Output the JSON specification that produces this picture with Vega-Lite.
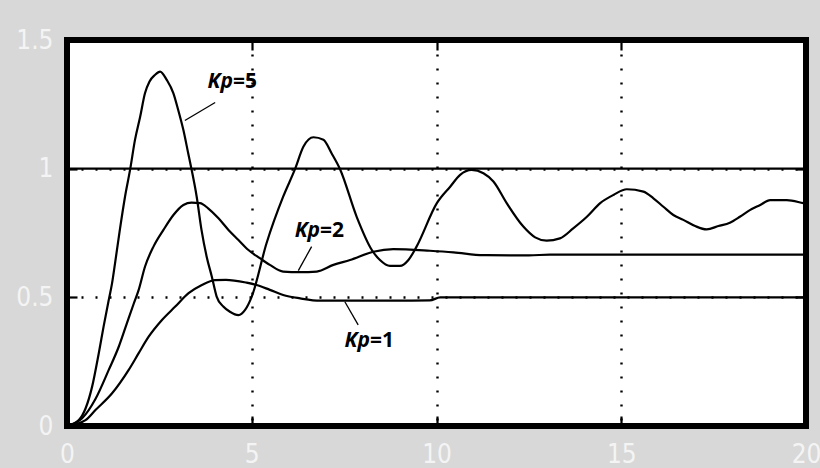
{
  "$schema": "https://vega.github.io/schema/vega-lite/v6.json",
  "width": 739,
  "height": 386,
  "autosize": {"type": "none"},
  "padding": {"left": 67, "top": 40, "right": 14, "bottom": 42},
  "background": "#d8d8d8",
  "config": {
    "view": {"fill": "white", "stroke": "black", "strokeWidth": 6}
  },
  "datasets": {
    "response": [
      {"t": 0, "y": 0, "kp": "Kp=5"},
      {"t": 0.32, "y": 0.023, "kp": "Kp=5"},
      {"t": 0.68, "y": 0.153, "kp": "Kp=5"},
      {"t": 0.86, "y": 0.283, "kp": "Kp=5"},
      {"t": 0.99, "y": 0.386, "kp": "Kp=5"},
      {"t": 1.13, "y": 0.49, "kp": "Kp=5"},
      {"t": 1.22, "y": 0.555, "kp": "Kp=5"},
      {"t": 1.3, "y": 0.632, "kp": "Kp=5"},
      {"t": 1.43, "y": 0.762, "kp": "Kp=5"},
      {"t": 1.57, "y": 0.891, "kp": "Kp=5"},
      {"t": 1.71, "y": 0.998, "kp": "Kp=5"},
      {"t": 1.84, "y": 1.112, "kp": "Kp=5"},
      {"t": 1.98, "y": 1.202, "kp": "Kp=5"},
      {"t": 2.11, "y": 1.293, "kp": "Kp=5"},
      {"t": 2.23, "y": 1.338, "kp": "Kp=5"},
      {"t": 2.38, "y": 1.364, "kp": "Kp=5"},
      {"t": 2.52, "y": 1.377, "kp": "Kp=5"},
      {"t": 2.7, "y": 1.345, "kp": "Kp=5"},
      {"t": 2.88, "y": 1.293, "kp": "Kp=5"},
      {"t": 3.01, "y": 1.228, "kp": "Kp=5"},
      {"t": 3.15, "y": 1.15, "kp": "Kp=5"},
      {"t": 3.28, "y": 1.06, "kp": "Kp=5"},
      {"t": 3.37, "y": 0.998, "kp": "Kp=5"},
      {"t": 3.51, "y": 0.891, "kp": "Kp=5"},
      {"t": 3.64, "y": 0.762, "kp": "Kp=5"},
      {"t": 3.78, "y": 0.658, "kp": "Kp=5"},
      {"t": 3.92, "y": 0.58, "kp": "Kp=5"},
      {"t": 4.05, "y": 0.503, "kp": "Kp=5"},
      {"t": 4.23, "y": 0.464, "kp": "Kp=5"},
      {"t": 4.41, "y": 0.444, "kp": "Kp=5"},
      {"t": 4.64, "y": 0.431, "kp": "Kp=5"},
      {"t": 4.82, "y": 0.451, "kp": "Kp=5"},
      {"t": 5.0, "y": 0.503, "kp": "Kp=5"},
      {"t": 5.4, "y": 0.71, "kp": "Kp=5"},
      {"t": 5.85, "y": 0.891, "kp": "Kp=5"},
      {"t": 6.17, "y": 0.998, "kp": "Kp=5"},
      {"t": 6.4, "y": 1.086, "kp": "Kp=5"},
      {"t": 6.67, "y": 1.122, "kp": "Kp=5"},
      {"t": 6.94, "y": 1.112, "kp": "Kp=5"},
      {"t": 7.16, "y": 1.06, "kp": "Kp=5"},
      {"t": 7.39, "y": 0.998, "kp": "Kp=5"},
      {"t": 7.84, "y": 0.813, "kp": "Kp=5"},
      {"t": 8.25, "y": 0.684, "kp": "Kp=5"},
      {"t": 8.47, "y": 0.645, "kp": "Kp=5"},
      {"t": 8.74, "y": 0.622, "kp": "Kp=5"},
      {"t": 9.01, "y": 0.622, "kp": "Kp=5"},
      {"t": 9.24, "y": 0.645, "kp": "Kp=5"},
      {"t": 9.46, "y": 0.697, "kp": "Kp=5"},
      {"t": 10.01, "y": 0.866, "kp": "Kp=5"},
      {"t": 10.37, "y": 0.93, "kp": "Kp=5"},
      {"t": 10.64, "y": 0.976, "kp": "Kp=5"},
      {"t": 10.95, "y": 0.995, "kp": "Kp=5"},
      {"t": 11.27, "y": 0.982, "kp": "Kp=5"},
      {"t": 11.54, "y": 0.95, "kp": "Kp=5"},
      {"t": 11.9, "y": 0.866, "kp": "Kp=5"},
      {"t": 12.35, "y": 0.775, "kp": "Kp=5"},
      {"t": 12.67, "y": 0.733, "kp": "Kp=5"},
      {"t": 12.98, "y": 0.72, "kp": "Kp=5"},
      {"t": 13.34, "y": 0.729, "kp": "Kp=5"},
      {"t": 13.7, "y": 0.768, "kp": "Kp=5"},
      {"t": 14.07, "y": 0.813, "kp": "Kp=5"},
      {"t": 14.43, "y": 0.866, "kp": "Kp=5"},
      {"t": 14.79, "y": 0.898, "kp": "Kp=5"},
      {"t": 15.15, "y": 0.92, "kp": "Kp=5"},
      {"t": 15.6, "y": 0.911, "kp": "Kp=5"},
      {"t": 15.87, "y": 0.885, "kp": "Kp=5"},
      {"t": 16.14, "y": 0.852, "kp": "Kp=5"},
      {"t": 16.41, "y": 0.82, "kp": "Kp=5"},
      {"t": 16.68, "y": 0.801, "kp": "Kp=5"},
      {"t": 17.0, "y": 0.777, "kp": "Kp=5"},
      {"t": 17.31, "y": 0.764, "kp": "Kp=5"},
      {"t": 17.63, "y": 0.777, "kp": "Kp=5"},
      {"t": 17.94, "y": 0.79, "kp": "Kp=5"},
      {"t": 18.21, "y": 0.813, "kp": "Kp=5"},
      {"t": 18.48, "y": 0.839, "kp": "Kp=5"},
      {"t": 18.76, "y": 0.859, "kp": "Kp=5"},
      {"t": 19.03, "y": 0.878, "kp": "Kp=5"},
      {"t": 19.48, "y": 0.878, "kp": "Kp=5"},
      {"t": 19.93, "y": 0.866, "kp": "Kp=5"},
      {"t": 20, "y": 0.864, "kp": "Kp=5"},

      {"t": 0, "y": 0, "kp": "Kp=2"},
      {"t": 0.41, "y": 0.03, "kp": "Kp=2"},
      {"t": 0.77, "y": 0.105, "kp": "Kp=2"},
      {"t": 1.13, "y": 0.218, "kp": "Kp=2"},
      {"t": 1.4, "y": 0.308, "kp": "Kp=2"},
      {"t": 1.62, "y": 0.399, "kp": "Kp=2"},
      {"t": 1.81, "y": 0.477, "kp": "Kp=2"},
      {"t": 1.94, "y": 0.529, "kp": "Kp=2"},
      {"t": 2.11, "y": 0.619, "kp": "Kp=2"},
      {"t": 2.34, "y": 0.697, "kp": "Kp=2"},
      {"t": 2.61, "y": 0.762, "kp": "Kp=2"},
      {"t": 2.88, "y": 0.82, "kp": "Kp=2"},
      {"t": 3.15, "y": 0.859, "kp": "Kp=2"},
      {"t": 3.37, "y": 0.868, "kp": "Kp=2"},
      {"t": 3.6, "y": 0.866, "kp": "Kp=2"},
      {"t": 3.82, "y": 0.846, "kp": "Kp=2"},
      {"t": 4.1, "y": 0.807, "kp": "Kp=2"},
      {"t": 4.37, "y": 0.762, "kp": "Kp=2"},
      {"t": 4.64, "y": 0.723, "kp": "Kp=2"},
      {"t": 4.91, "y": 0.684, "kp": "Kp=2"},
      {"t": 5.22, "y": 0.652, "kp": "Kp=2"},
      {"t": 5.49, "y": 0.626, "kp": "Kp=2"},
      {"t": 5.85, "y": 0.6, "kp": "Kp=2"},
      {"t": 6.3, "y": 0.598, "kp": "Kp=2"},
      {"t": 6.76, "y": 0.6, "kp": "Kp=2"},
      {"t": 7.21, "y": 0.626, "kp": "Kp=2"},
      {"t": 7.66, "y": 0.645, "kp": "Kp=2"},
      {"t": 8.29, "y": 0.677, "kp": "Kp=2"},
      {"t": 8.83, "y": 0.687, "kp": "Kp=2"},
      {"t": 9.82, "y": 0.681, "kp": "Kp=2"},
      {"t": 10.46, "y": 0.675, "kp": "Kp=2"},
      {"t": 11.27, "y": 0.664, "kp": "Kp=2"},
      {"t": 12.5, "y": 0.663, "kp": "Kp=2"},
      {"t": 13.07, "y": 0.666, "kp": "Kp=2"},
      {"t": 15, "y": 0.666, "kp": "Kp=2"},
      {"t": 17.5, "y": 0.666, "kp": "Kp=2"},
      {"t": 20, "y": 0.666, "kp": "Kp=2"},

      {"t": 0, "y": 0, "kp": "Kp=1"},
      {"t": 0.5, "y": 0.023, "kp": "Kp=1"},
      {"t": 0.77, "y": 0.062, "kp": "Kp=1"},
      {"t": 1.22, "y": 0.127, "kp": "Kp=1"},
      {"t": 1.67, "y": 0.218, "kp": "Kp=1"},
      {"t": 1.94, "y": 0.283, "kp": "Kp=1"},
      {"t": 2.21, "y": 0.347, "kp": "Kp=1"},
      {"t": 2.57, "y": 0.412, "kp": "Kp=1"},
      {"t": 2.93, "y": 0.464, "kp": "Kp=1"},
      {"t": 3.29, "y": 0.516, "kp": "Kp=1"},
      {"t": 3.65, "y": 0.548, "kp": "Kp=1"},
      {"t": 4.01, "y": 0.567, "kp": "Kp=1"},
      {"t": 4.3, "y": 0.568, "kp": "Kp=1"},
      {"t": 4.86, "y": 0.557, "kp": "Kp=1"},
      {"t": 5.13, "y": 0.548, "kp": "Kp=1"},
      {"t": 5.49, "y": 0.529, "kp": "Kp=1"},
      {"t": 5.85, "y": 0.509, "kp": "Kp=1"},
      {"t": 6.31, "y": 0.496, "kp": "Kp=1"},
      {"t": 6.85, "y": 0.487, "kp": "Kp=1"},
      {"t": 8.0, "y": 0.487, "kp": "Kp=1"},
      {"t": 9.82, "y": 0.488, "kp": "Kp=1"},
      {"t": 10.1, "y": 0.5, "kp": "Kp=1"},
      {"t": 12, "y": 0.5, "kp": "Kp=1"},
      {"t": 15, "y": 0.5, "kp": "Kp=1"},
      {"t": 20, "y": 0.5, "kp": "Kp=1"}
    ],
    "setpoint": [{"level": 1}],
    "labels": [
      {"kp": "Kp=5", "name": "Kp", "gain": "=5", "tx": 4.49, "ty": 1.314, "t": 4.01, "y": 1.257, "t2": 3.19, "y2": 1.187},
      {"kp": "Kp=2", "name": "Kp", "gain": "=2", "tx": 6.85, "ty": 0.733, "t": 6.62, "y": 0.697, "t2": 6.26, "y2": 0.604},
      {"kp": "Kp=1", "name": "Kp", "gain": "=1", "tx": 8.2, "ty": 0.308, "t": 7.88, "y": 0.393, "t2": 7.52, "y2": 0.483}
    ]
  },
  "resolve": {"axis": {"x": "independent", "y": "independent"}},
  "layer": [
    {
      "data": {"name": "response"},
      "mark": {"type": "line", "color": "black", "strokeWidth": 2.2, "interpolate": "monotone"},
      "encoding": {
        "x": {
          "field": "t", "type": "quantitative",
          "scale": {"domain": [0, 20], "nice": false, "zero": false},
          "axis": {
            "orient": "bottom", "values": [0, 5, 10, 15, 20], "title": null,
            "domain": false, "ticks": false,
            "grid": true, "gridColor": "black", "gridDash": [2, 12], "gridWidth": 2.4, "gridOpacity": 1,
            "labels": true, "labelExpr": "'' + datum.value", "labelFlush": false, "labelOverlap": false, "labelBound": false,
            "labelFont": "Liberation Sans Narrow, DejaVu Sans Condensed, sans-serif", "labelFontSize": 26,
            "labelColor": "#f4f4f4", "labelPadding": 15
          }
        },
        "y": {
          "field": "y", "type": "quantitative",
          "scale": {"domain": [0, 1.5], "nice": false, "zero": false},
          "axis": {
            "orient": "left", "values": [0, 0.5, 1, 1.5], "title": null,
            "domain": false, "ticks": false,
            "grid": true, "gridColor": "black", "gridDash": [2, 12], "gridWidth": 2.4, "gridOpacity": 1,
            "labels": true, "labelExpr": "'' + datum.value", "labelFlush": false, "labelOverlap": false, "labelBound": false,
            "labelFont": "Liberation Sans Narrow, DejaVu Sans Condensed, sans-serif", "labelFontSize": 26,
            "labelColor": "#f4f4f4", "labelPadding": 14
          }
        },
        "detail": {"field": "kp"}
      }
    },
    {
      "data": {"name": "setpoint"},
      "mark": {"type": "rule", "color": "black", "strokeWidth": 2.2},
      "encoding": {
        "y": {"field": "level", "type": "quantitative", "axis": null}
      }
    },
    {
      "data": {"name": "labels"},
      "mark": {"type": "rule", "color": "black", "strokeWidth": 1.3},
      "encoding": {
        "x": {
          "field": "t", "type": "quantitative",
          "axis": {"orient": "bottom", "offset": -10, "values": [0, 5, 10, 15, 20], "title": null, "labels": false, "grid": false, "domain": false,
                   "ticks": true, "tickSize": 10, "tickWidth": 2.2, "tickColor": "black"}
        },
        "x2": {"field": "t2"},
        "y": {
          "field": "y", "type": "quantitative",
          "axis": {"orient": "left", "offset": -10, "values": [0, 0.5, 1, 1.5], "title": null, "labels": false, "grid": false, "domain": false,
                   "ticks": true, "tickSize": 10, "tickWidth": 2.2, "tickColor": "black"}
        },
        "y2": {"field": "y2"}
      }
    },
    {
      "data": {"name": "labels"},
      "mark": {"type": "text", "align": "right", "baseline": "alphabetic", "font": "Open Sans", "fontSize": 21, "fontWeight": "bold", "fontStyle": "italic", "color": "black"},
      "encoding": {
        "x": {
          "field": "tx", "type": "quantitative",
          "axis": {"orient": "top", "offset": -10, "values": [0, 5, 10, 15, 20], "title": null, "labels": false, "grid": false, "domain": false,
                   "ticks": true, "tickSize": 10, "tickWidth": 2.2, "tickColor": "black"}
        },
        "y": {
          "field": "ty", "type": "quantitative",
          "axis": {"orient": "right", "offset": -10, "values": [0, 0.5, 1, 1.5], "title": null, "labels": false, "grid": false, "domain": false,
                   "ticks": true, "tickSize": 10, "tickWidth": 2.2, "tickColor": "black"}
        },
        "text": {"field": "name"}
      }
    },
    {
      "data": {"name": "labels"},
      "mark": {"type": "text", "align": "left", "baseline": "alphabetic", "font": "Open Sans", "fontSize": 21, "fontWeight": "bold", "color": "black"},
      "encoding": {
        "x": {"field": "tx", "type": "quantitative", "axis": null},
        "y": {"field": "ty", "type": "quantitative", "axis": null},
        "text": {"field": "gain"}
      }
    }
  ]
}
